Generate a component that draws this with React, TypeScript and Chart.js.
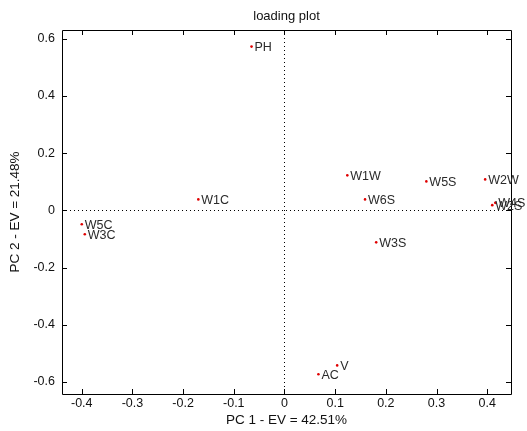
import React, { useEffect, useRef } from "react";
import { Chart, registerables } from "chart.js";

Chart.register(...registerables);

const pointNames = ["PH", "W1W", "W5S", "W2W", "W6S", "W1C", "W5C", "W3C", "W3S", "W4S", "W2S", "V", "AC"];
const pc1 = [-0.065, 0.124, 0.28, 0.396, 0.159, -0.17, -0.4, -0.394, 0.181, 0.416, 0.41, 0.104, 0.067];
const pc2 = [0.572, 0.122, 0.101, 0.108, 0.038, 0.038, -0.049, -0.084, -0.112, 0.026, 0.018, -0.542, -0.573];

const xTicks = [-0.4, -0.3, -0.2, -0.1, 0, 0.1, 0.2, 0.3, 0.4];
const yTicks = [-0.6, -0.4, -0.2, 0, 0.2, 0.4, 0.6];

const titleText = "loading plot";
const xTitle = "PC 1 - EV = 42.51%";
const yTitle = "PC 2 - EV = 21.48%";

const FONT = "'Liberation Sans', Arial, sans-serif";

const fmt = (v: number) => {
  if (Math.abs(v) < 1e-9) return "0";
  return v.toFixed(1);
};

const framePlugin = {
  id: "frame",
  beforeDatasetsDraw(chart: any) {
    const { ctx, chartArea } = chart;
    const { left, right, top, bottom } = chartArea;
    const xs = chart.scales.x;
    const ys = chart.scales.y;
    ctx.save();
    // title centred over plot area
    ctx.font = `13px ${FONT}`;
    ctx.fillStyle = "#111";
    ctx.textAlign = "center";
    ctx.textBaseline = "middle";
    ctx.fillText(titleText, (left + right) / 2, 16);
    // dotted zero lines
    ctx.strokeStyle = "#000";
    ctx.lineWidth = 1;
    ctx.setLineDash([1, 3]);
    const x0 = Math.round(xs.getPixelForValue(0)) + 0.5;
    const y0 = Math.round(ys.getPixelForValue(0)) + 0.5;
    ctx.beginPath();
    ctx.moveTo(x0, top);
    ctx.lineTo(x0, bottom);
    ctx.moveTo(left, y0);
    ctx.lineTo(right, y0);
    ctx.stroke();
    ctx.setLineDash([]);
    // box
    ctx.beginPath();
    ctx.rect(Math.round(left) + 0.5, Math.round(top) + 0.5, Math.round(right - left), Math.round(bottom - top));
    ctx.stroke();
    // inward ticks
    const tl = 5;
    ctx.beginPath();
    xTicks.forEach((v) => {
      const px = Math.round(xs.getPixelForValue(v)) + 0.5;
      ctx.moveTo(px, bottom);
      ctx.lineTo(px, bottom - tl);
      ctx.moveTo(px, top);
      ctx.lineTo(px, top + tl);
    });
    yTicks.forEach((v) => {
      const py = Math.round(ys.getPixelForValue(v)) + 0.5;
      ctx.moveTo(left, py);
      ctx.lineTo(left + tl, py);
      ctx.moveTo(right, py);
      ctx.lineTo(right - tl, py);
    });
    ctx.stroke();
    ctx.restore();
  },
  afterDatasetsDraw(chart: any) {
    const { ctx } = chart;
    const xs = chart.scales.x;
    const ys = chart.scales.y;
    ctx.save();
    ctx.font = `12.5px ${FONT}`;
    ctx.fillStyle = "#2a2a2a";
    ctx.textAlign = "left";
    ctx.textBaseline = "middle";
    pointNames.forEach((n, i) => {
      const px = xs.getPixelForValue(pc1[i]);
      const py = ys.getPixelForValue(pc2[i]);
      ctx.fillText(n, px + 3, py + 1);
    });
    ctx.restore();
  },
};

export default function App() {
  const ref = useRef<HTMLCanvasElement>(null);
  useEffect(() => {
    if (!ref.current) return;
    const chart = new Chart(ref.current, {
      type: "scatter",
      data: {
        datasets: [
          {
            data: pc1.map((x, i) => ({ x, y: pc2[i] })),
            backgroundColor: "#e00000",
            borderColor: "#e00000",
            pointRadius: 1.3,
            pointBorderWidth: 0,
          },
        ],
      },
      options: {
        responsive: false,
        animation: false,
        layout: { padding: { left: 0, right: 16, top: 30, bottom: 0 } },
        plugins: {
          legend: { display: false },
          tooltip: { enabled: false },
          title: { display: false },
        },
        scales: {
          x: {
            type: "linear",
            min: -0.439,
            max: 0.447,
            afterBuildTicks: (s: any) => {
              s.ticks = xTicks.map((v) => ({ value: v }));
            },
            afterFit: (s: any) => {
              s.height = 37;
            },
            grid: { display: false, drawTicks: false },
            border: { display: false },
            ticks: {
              color: "#111",
              font: { family: FONT, size: 12.5 },
              padding: 2,
              maxRotation: 0,
              autoSkip: false,
              callback: (v: any) => fmt(Number(v)),
            },
            title: {
              display: true,
              text: xTitle,
              color: "#111",
              font: { family: FONT, size: 13.5 },
              padding: { top: 0, bottom: 3 },
            },
          },
          y: {
            type: "linear",
            min: -0.642,
            max: 0.63,
            afterBuildTicks: (s: any) => {
              s.ticks = yTicks.map((v) => ({ value: v }));
            },
            afterFit: (s: any) => {
              s.width = 62;
            },
            grid: { display: false, drawTicks: false },
            border: { display: false },
            ticks: {
              color: "#111",
              font: { family: FONT, size: 12.5 },
              padding: 7,
              autoSkip: false,
              callback: (v: any) => fmt(Number(v)),
            },
            title: {
              display: true,
              text: yTitle,
              color: "#111",
              font: { family: FONT, size: 13.5 },
              padding: { top: 7, bottom: 0 },
            },
          },
        },
      },
      plugins: [framePlugin],
    } as any);
    return () => chart.destroy();
  }, []);
  return (
    <div style={{ position: "fixed", left: 0, top: 0, width: 527, height: 431, background: "#fff" }}>
      <canvas ref={ref} width={527} height={431} />
    </div>
  );
}
